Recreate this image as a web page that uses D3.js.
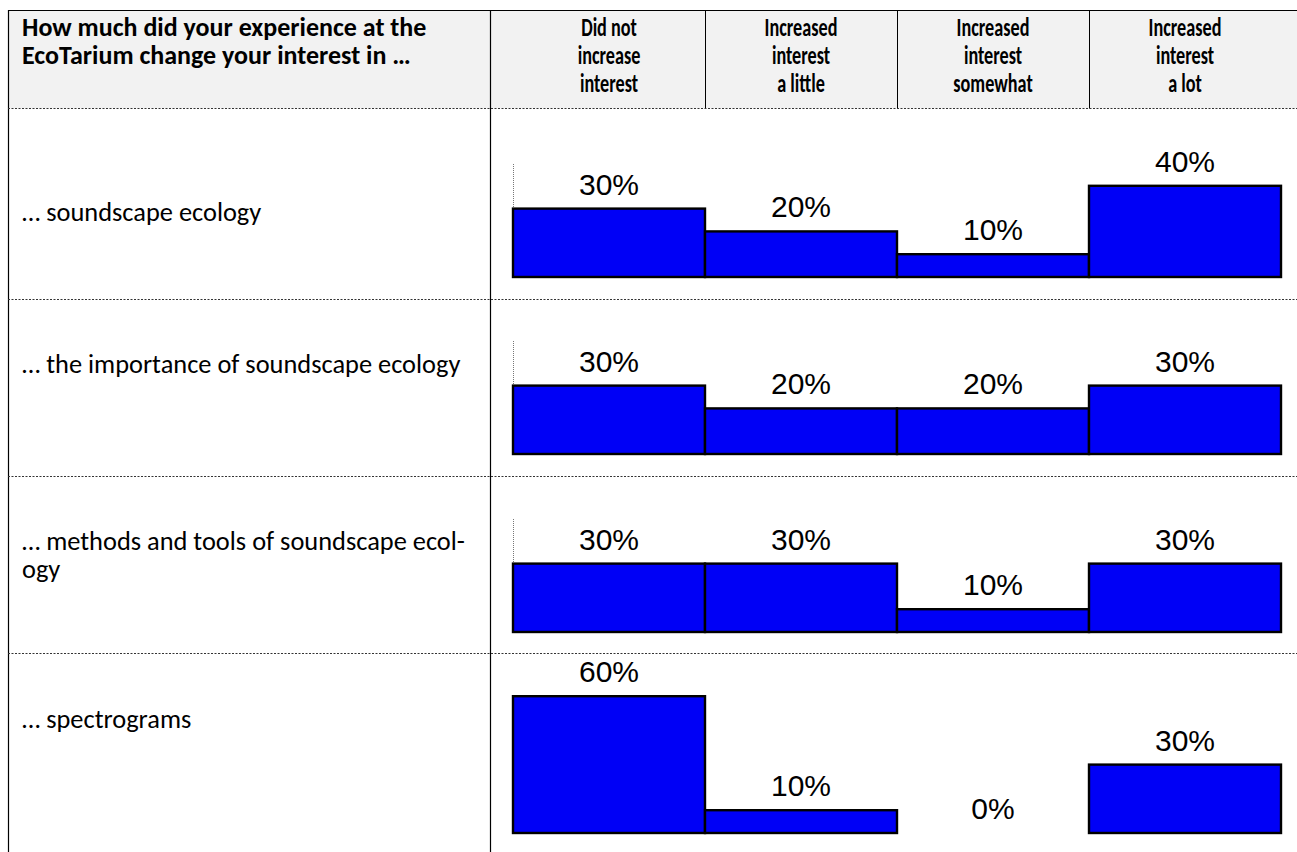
<!DOCTYPE html>
<html>
<head>
<meta charset="utf-8">
<script src="https://cdn.jsdelivr.net/npm/d3@7"></script>
<style>
  html, body { margin: 0; padding: 0; background: #fff; }
  svg { display: block; }
  .head { font-family: Carlito, Lato, "Open Sans", sans-serif; font-weight: bold; font-size: 26px; fill: #000; }
  .item { font-family: Carlito, Lato, "Open Sans", sans-serif; font-size: 26.4px; fill: #000; }
  .val { font-family: "Liberation Sans", Arial, Helvetica, sans-serif; font-size: 30px; fill: #000; }
</style>
</head>
<body>
<svg id="chart" width="1297" height="852"></svg>
<script>
// Survey answer options (columns) and their header wording
const categories = ["Did not increase interest", "Increased interest a little", "Increased interest somewhat", "Increased interest a lot"];
const categoryHeaderLines = [
  ["Did not", "increase", "interest"],
  ["Increased", "interest", "a little"],
  ["Increased", "interest", "somewhat"],
  ["Increased", "interest", "a lot"]
];
const questionLines = ["How much did your experience at the", "EcoTarium change your interest in …"];

// Items asked about (rows), with their wrapped label lines
const items = ["soundscape ecology", "importance", "methods and tools", "spectrograms"];
const itemLabelLines = [
  ["… soundscape ecology"],
  ["… the importance of soundscape ecology"],
  ["… methods and tools of soundscape ecol-", "ogy"],
  ["… spectrograms"]
];

// Share of respondents (%) per answer option
const soundscapeEcology = [30, 20, 10, 40];
const importanceOfSoundscapeEcology = [30, 20, 20, 30];
const methodsAndTools = [30, 30, 10, 30];
const spectrograms = [60, 10, 0, 30];
const seriesByItem = [soundscapeEcology, importanceOfSoundscapeEcology, methodsAndTools, spectrograms];

// Table geometry
const W = 1297, H = 852;
const tableLeft = 8, tableTop = 10, labelColRight = 490.5, headerBottom = 108.5;
const rowTops = [108.5, 299.5, 476.5, 653.5];
const rowBaselines = [277, 454, 632, 833];
const rowLabelBaselines = [[221], [373], [550, 578], [728]];
const headerBaseline = 36, headerLineGap = 28;
const barPxPer100 = 228;

const svg = d3.select("#chart");

// Header band
svg.append("rect").attr("x", tableLeft).attr("y", tableTop)
  .attr("width", W - tableLeft).attr("height", headerBottom - tableTop)
  .attr("fill", "#f2f2f2");

const x = d3.scaleBand().domain(categories).range([513, 1281]).padding(0);

// Question text
svg.append("g").selectAll("text").data(questionLines).join("text")
  .attr("class", "head")
  .attr("x", 22)
  .attr("y", (d, i) => headerBaseline + i * headerLineGap)
  .text(d => d);

// Column headers (narrow setting of the bold face)
const colHead = svg.append("g").selectAll("text").data(categories).join("text")
  .attr("class", "head")
  .attr("text-anchor", "middle")
  .attr("transform", d => `translate(${x(d) + x.bandwidth() / 2},0) scale(0.7,1)`);
colHead.selectAll("tspan").data((d, i) => categoryHeaderLines[i]).join("tspan")
  .attr("x", 0)
  .attr("y", (d, j) => headerBaseline + j * headerLineGap)
  .text(d => d);

// Grid lines
const grid = svg.append("g").attr("stroke", "#000").attr("fill", "none");
grid.append("line").attr("x1", tableLeft).attr("x2", W).attr("y1", tableTop + 0.5).attr("y2", tableTop + 0.5).attr("stroke-width", 1.2);
grid.append("line").attr("x1", tableLeft + 0.5).attr("x2", tableLeft + 0.5).attr("y1", tableTop).attr("y2", H).attr("stroke-width", 1.2);
grid.append("line").attr("x1", labelColRight).attr("x2", labelColRight).attr("y1", tableTop).attr("y2", H).attr("stroke-width", 1.2);
grid.selectAll("line.sep").data(categories.slice(1)).join("line")
  .attr("class", "sep")
  .attr("x1", d => Math.round(x(d)) + 0.5).attr("x2", d => Math.round(x(d)) + 0.5)
  .attr("y1", tableTop).attr("y2", headerBottom).attr("stroke-width", 1);
grid.selectAll("line.rowsep").data(rowTops).join("line")
  .attr("class", "rowsep")
  .attr("x1", tableLeft).attr("x2", W).attr("y1", d => d).attr("y2", d => d)
  .attr("stroke", "#333").attr("stroke-width", 1).attr("stroke-dasharray", "2,1.5");

// Item labels
items.forEach((item, r) => {
  svg.append("g").selectAll("text").data(itemLabelLines[r]).join("text")
    .attr("class", "item")
    .attr("x", 22)
    .attr("y", (d, j) => rowLabelBaselines[r][j])
    .text(d => d);
});

// Bars per item
items.forEach((item, r) => {
  const base = rowBaselines[r];
  const y = d3.scaleLinear().domain([0, 100]).range([base, base - barPxPer100]);
  const g = svg.append("g");

  // faint value axis up to 50%
  g.append("line")
    .attr("x1", x.range()[0] + 0.5).attr("x2", x.range()[0] + 0.5)
    .attr("y1", y(0)).attr("y2", y(50))
    .attr("stroke", "#777").attr("stroke-width", 1).attr("stroke-dasharray", "1,1");

  const vals = seriesByItem[r];
  g.selectAll("rect").data(categories).join("rect")
    .attr("x", d => x(d))
    .attr("y", (d, i) => y(vals[i]))
    .attr("width", x.bandwidth())
    .attr("height", (d, i) => y(0) - y(vals[i]))
    .attr("fill", "#0000f6")
    .attr("stroke", "#000")
    .attr("stroke-width", 2.4);

  g.selectAll("text").data(categories).join("text")
    .attr("class", "val")
    .attr("text-anchor", "middle")
    .attr("x", d => x(d) + x.bandwidth() / 2)
    .attr("y", (d, i) => y(vals[i]) - 14)
    .text((d, i) => vals[i] + "%");
});
</script>
</body>
</html>
